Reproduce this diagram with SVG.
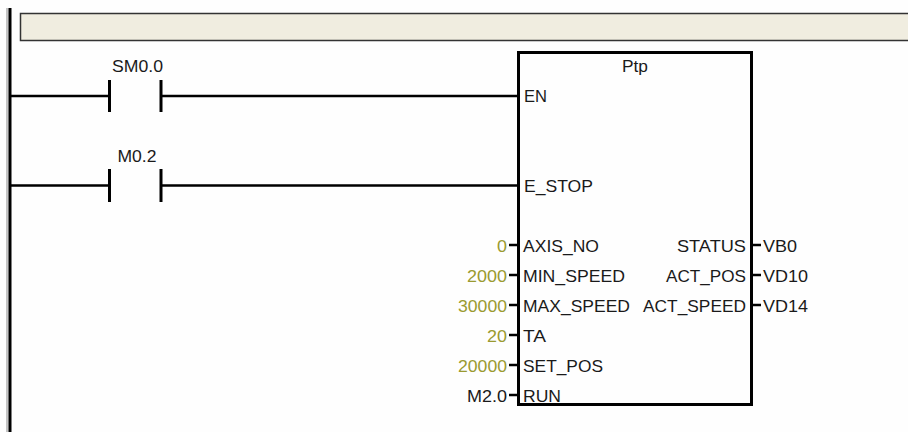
<svg xmlns="http://www.w3.org/2000/svg" width="908" height="432" viewBox="0 0 908 432">
<style>
text{font-family:"Liberation Sans",Arial,sans-serif;font-size:17px;fill:#1a1a1a}
.c{fill:#9a9a30}
.e{text-anchor:end}
.m{text-anchor:middle}
.w{stroke:#000;stroke-width:2.5;fill:none}
.p{stroke:#000;stroke-width:3;fill:none}
</style>
<rect width="908" height="432" fill="#fefefe"/>
<rect x="6" y="8" width="2.5" height="424" fill="#c4c4c4"/>
<rect id="header" x="20.5" y="13.5" width="889" height="27" fill="#f0ede0" stroke="#333" stroke-width="1.5"/>
<g id="connectors">
<path class="p" d="M10 8V432"/>
<path class="w" d="M10 96H109M161 96H518M10 185.500H109M161 185.500H518"/>
<path class="w" d="M509 245H518M509 275H518M509 305H518M509 335H518M509 365H518M509 395H518M752 245H761M752 275H761M752 305H761"/>
</g>
<g id="contact-sm00">
<path class="p" d="M109.500 80V112M161 80V112"/>
<text x="137.500" y="72" class="m" lengthAdjust="spacingAndGlyphs" textLength="51">SM0.0</text>
</g>
<g id="contact-m02">
<path class="p" d="M109.500 169V202M161 169V202"/>
<text x="137" y="162" class="m" lengthAdjust="spacingAndGlyphs" textLength="39">M0.2</text>
</g>
<g id="ptp">
<rect x="518.500" y="52.500" width="233" height="352" fill="#fefefe" stroke="#000" stroke-width="3"/>
<text x="635" y="72" class="m" lengthAdjust="spacingAndGlyphs" textLength="26">Ptp</text>
<text x="524" y="102" lengthAdjust="spacingAndGlyphs" textLength="23">EN</text>
<text x="524" y="192" lengthAdjust="spacingAndGlyphs" textLength="69">E_STOP</text>
<text x="523" y="252" lengthAdjust="spacingAndGlyphs" textLength="76">AXIS_NO</text>
<text x="523" y="282" lengthAdjust="spacingAndGlyphs" textLength="102">MIN_SPEED</text>
<text x="523" y="312" lengthAdjust="spacingAndGlyphs" textLength="107">MAX_SPEED</text>
<text x="523" y="342" lengthAdjust="spacingAndGlyphs" textLength="23">TA</text>
<text x="523" y="372" lengthAdjust="spacingAndGlyphs" textLength="80">SET_POS</text>
<text x="523" y="402" lengthAdjust="spacingAndGlyphs" textLength="38">RUN</text>
<text x="746" y="252" class="e" lengthAdjust="spacingAndGlyphs" textLength="69">STATUS</text>
<text x="746" y="282" class="e" lengthAdjust="spacingAndGlyphs" textLength="80">ACT_POS</text>
<text x="746" y="312" class="e" lengthAdjust="spacingAndGlyphs" textLength="103">ACT_SPEED</text>
</g>
<g id="inputs">
<text x="507" y="252" class="e c" lengthAdjust="spacingAndGlyphs" textLength="10">0</text>
<text x="507" y="282" class="e c" lengthAdjust="spacingAndGlyphs" textLength="40">2000</text>
<text x="507" y="312" class="e c" lengthAdjust="spacingAndGlyphs" textLength="49">30000</text>
<text x="507" y="342" class="e c" lengthAdjust="spacingAndGlyphs" textLength="20">20</text>
<text x="507" y="372" class="e c" lengthAdjust="spacingAndGlyphs" textLength="49">20000</text>
<text x="507" y="402" class="e" lengthAdjust="spacingAndGlyphs" textLength="40">M2.0</text>
</g>
<g id="outputs">
<text x="763" y="252" lengthAdjust="spacingAndGlyphs" textLength="34">VB0</text>
<text x="763" y="282" lengthAdjust="spacingAndGlyphs" textLength="45">VD10</text>
<text x="763" y="312" lengthAdjust="spacingAndGlyphs" textLength="45">VD14</text>
</g>
</svg>
